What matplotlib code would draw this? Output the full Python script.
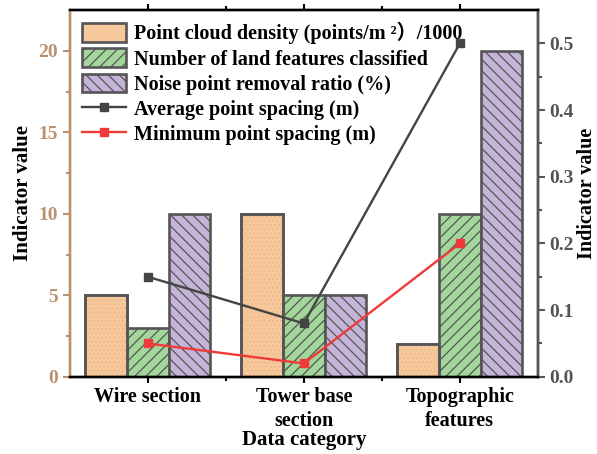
import matplotlib
matplotlib.use("Agg")
from matplotlib import pyplot as plt
import numpy as np

categories = ["Wire section", "Tower base\nsection", "Topographic\nfeatures"]
density = [5, 10, 2]
land_features = [3, 5, 10]
noise_ratio = [10, 5, 20]
avg_spacing = [0.15, 0.08, 0.5]
min_spacing = [0.05, 0.02, 0.2]

plt.rcParams["font.family"] = ["Liberation Serif", "Noto Sans CJK SC"]
plt.rcParams["font.weight"] = "bold"
plt.rcParams["font.size"] = 14
plt.rcParams["hatch.linewidth"] = 0.9

tan = "#b89270"
edge = "#555555"

fig, ax = plt.subplots(figsize=(5.97, 4.54), dpi=100)
fig.subplots_adjust(left=0.117, right=0.901, bottom=0.170, top=0.978)

x = np.arange(len(categories))
w = 0.8 / 3

b1 = ax.bar(x - w, density, w, color="#f6c89c", edgecolor=edge, linewidth=1.9,
            label="Point cloud density (points/m ²）/1000", zorder=2)
# faint dotted texture on the orange bars
ax.bar(x - w, density, w, color="none", edgecolor="#ecbb8c", linewidth=0,
       hatch="....", zorder=2.5)
ax.bar(x - w, density, w, color="none", edgecolor=edge, linewidth=1.9, zorder=2.6)
b2 = ax.bar(x, land_features, w, color="#a3d69b", edgecolor=edge, linewidth=1.9,
            hatch="///", label="Number of land features classified", zorder=2)
b3 = ax.bar(x + w, noise_ratio, w, color="#c4b5d8", edgecolor=edge, linewidth=1.9,
            hatch="\\\\\\", label="Noise point removal ratio (%)", zorder=2)

ax.set_xlim(-0.5, 2.5)
ax.set_ylim(0, 22.5)
ax.set_xticks(x)
ax.set_xticklabels(categories, fontsize=14.5, linespacing=1.25)
ax.set_xticks([0.5, 1.5], minor=True)
ax.set_yticks([0, 5, 10, 15, 20])
ax.set_yticks([2.5, 7.5, 12.5, 17.5], minor=True)
ax.tick_params(axis="y", which="both", colors=tan, direction="out", width=1.5)
ax.tick_params(axis="y", which="major", length=5)
ax.tick_params(axis="y", which="minor", length=3)
ax.tick_params(axis="x", which="both", direction="out", width=1.5, length=4,
               top=True)
ax.tick_params(axis="x", which="minor", length=3)
ax.spines["left"].set_color(tan)
for s in ax.spines.values():
    s.set_linewidth(1.7)
ax.set_ylabel("Indicator value", fontsize=15, fontweight="bold")
ax.set_xlabel("Data category", fontsize=15, fontweight="bold", labelpad=-1)
for lab in ax.get_yticklabels():
    lab.set_color(tan)
    lab.set_fontsize(14)

ax2 = ax.twinx()
l1, = ax2.plot(x, avg_spacing, color="#444444", linewidth=1.7, marker="s",
               markersize=5.5, label="Average point spacing (m)")
l2, = ax2.plot(x, min_spacing, color="#f03a3a", linewidth=1.7, marker="s",
               markersize=5.5, label="Minimum point spacing (m)")
ax2.set_ylim(0, 0.55)
ax2.set_yticks([0, 0.1, 0.2, 0.3, 0.4, 0.5])
ax2.set_yticks([0.05, 0.15, 0.25, 0.35, 0.45], minor=True)
ax2.set_yticklabels(["0.0", "0.1", "0.2", "0.3", "0.4", "0.5"], fontsize=14)
ax2.tick_params(axis="y", which="both", colors=edge, direction="out", width=1.5)
ax2.tick_params(axis="y", which="major", length=5)
ax2.tick_params(axis="y", which="minor", length=3)
ax2.spines["right"].set_color(edge)
ax2.spines["left"].set_color(tan)
for s in ax2.spines.values():
    s.set_linewidth(1.7)
ax2.set_ylabel("Indicator value", fontsize=14.5, fontweight="bold", labelpad=2)

ax2.legend([b1, b2, b3, l1, l2],
           [b1.get_label(), b2.get_label(), b3.get_label(), l1.get_label(), l2.get_label()],
           loc="upper left", frameon=False, fontsize=14.5, handlelength=2.2,
           handleheight=1.05, labelspacing=0.2, handletextpad=0.4,
           borderaxespad=0.2)

plt.savefig("out.png", dpi=100)
